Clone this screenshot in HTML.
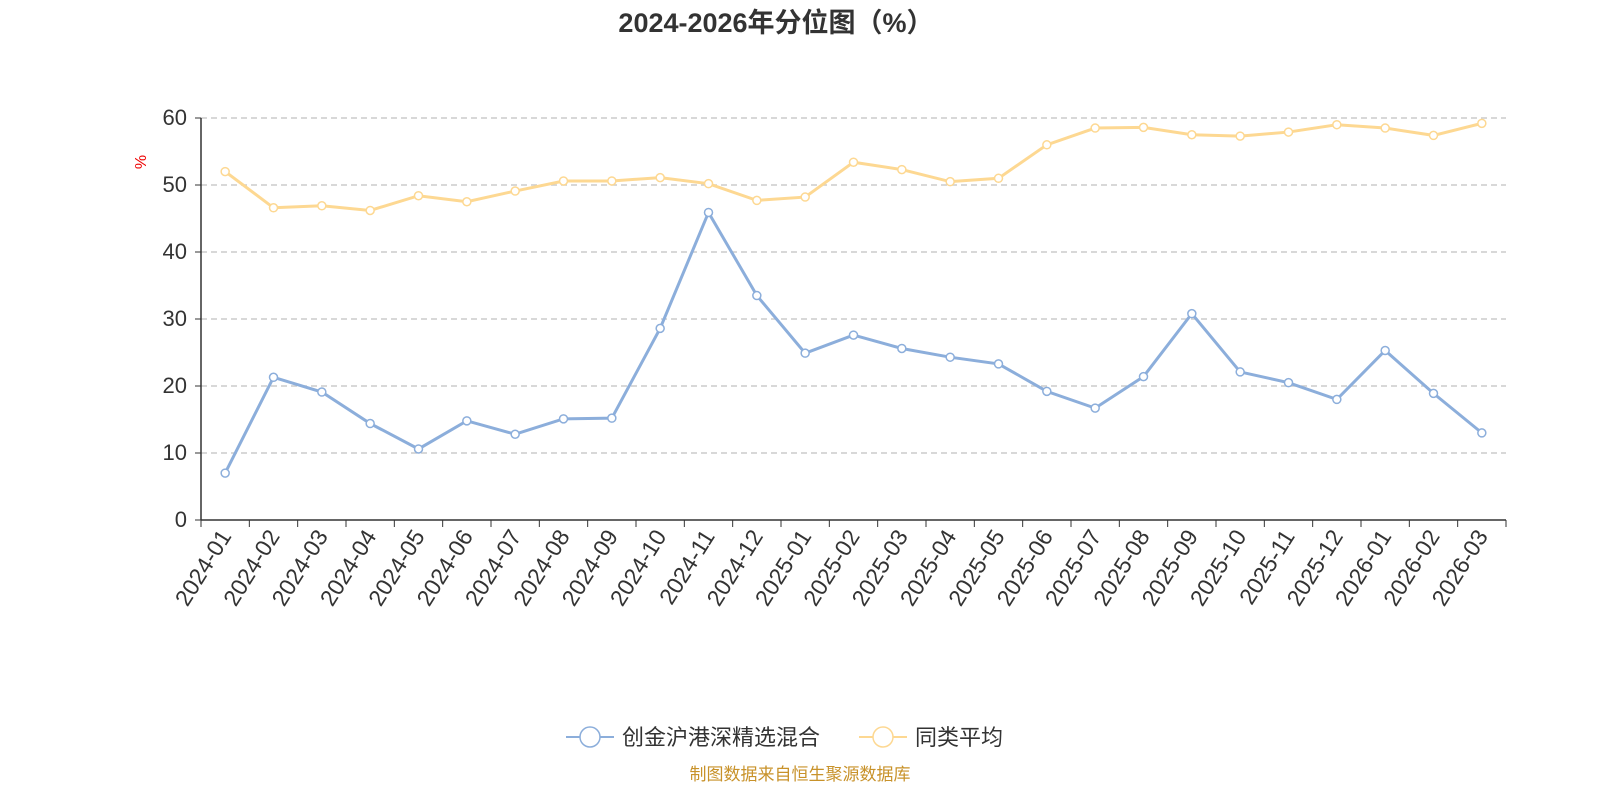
<!DOCTYPE html>
<html><head><meta charset="utf-8"><style>
body{margin:0;background:#fff;width:1600px;height:800px;overflow:hidden;font-family:"Liberation Sans","Noto Sans CJK SC",sans-serif}
</style></head><body>
<svg id="s" width="1600" height="800" xmlns="http://www.w3.org/2000/svg" font-family="Liberation Sans, Noto Sans CJK SC, sans-serif">
<text x="776" y="32" text-anchor="middle" font-size="27" font-weight="bold" fill="#333">2024-2026年分位图（%）</text>
<text x="0" y="0" transform="translate(146,162) rotate(-90)" text-anchor="middle" font-size="16" fill="#e00">%</text>
<g id="g"></g>
<line x1="566" y1="737" x2="614" y2="737" stroke="#8caedb" stroke-width="2"/>
<circle cx="590" cy="737" r="10" fill="#fff" stroke="#8caedb" stroke-width="1.5"/>
<text x="622" y="745" font-size="22" fill="#333">创金沪港深精选混合</text>
<line x1="859" y1="737" x2="907" y2="737" stroke="#fdd892" stroke-width="2"/>
<circle cx="883" cy="737" r="10" fill="#fff" stroke="#fdd892" stroke-width="1.5"/>
<text x="915" y="745" font-size="22" fill="#333">同类平均</text>
<text x="800" y="780" text-anchor="middle" font-size="17" fill="#c8922a">制图数据来自恒生聚源数据库</text>
</svg>
<script>
var g=document.getElementById('g'),h='';
var L=201,R=1506,B=520,k=6.7,n=27,w=(R-L)/n;
for(var v=0;v<=60;v+=10){var y=B-v*k;
 if(v>0)h+='<line x1="'+L+'" y1="'+y+'" x2="'+R+'" y2="'+y+'" stroke="#ccc" stroke-dasharray="6,4" stroke-width="1.5"/>';
 h+='<line x1="'+(L-6)+'" y1="'+y+'" x2="'+L+'" y2="'+y+'" stroke="#333"/>';
 h+='<text x="'+(L-14)+'" y="'+(y+7)+'" text-anchor="end" font-size="22" fill="#333">'+v+'</text>';}
h+='<line x1="'+L+'" y1="'+(B-60*k)+'" x2="'+L+'" y2="'+B+'" stroke="#333" stroke-width="1.5"/>';
h+='<line x1="'+L+'" y1="'+B+'" x2="'+R+'" y2="'+B+'" stroke="#333" stroke-width="1.5"/>';
var lab=[];for(var i=0;i<n;i++){var yr=2024+Math.floor(i/12),m=i%12+1;lab.push(yr+'-'+(m<10?'0':'')+m);}
for(var i=0;i<=n;i++){var x=L+i*w;h+='<line x1="'+x+'" y1="'+B+'" x2="'+x+'" y2="'+(B+7)+'" stroke="#333"/>';}
for(var i=0;i<n;i++){var x=L+w/2+i*w;h+='<text transform="translate('+(x+7)+','+(B+16)+') rotate(-58)" text-anchor="end" font-size="23" fill="#333">'+lab[i]+'</text>';}
var A=[7.0,21.3,19.1,14.4,10.6,14.8,12.8,15.1,15.2,28.6,45.9,33.5,24.9,27.6,25.6,24.3,23.3,19.2,16.7,21.4,30.8,22.1,20.5,18.0,25.3,18.9,13.0];
var Y=[52.0,46.6,46.9,46.2,48.4,47.5,49.1,50.6,50.6,51.1,50.2,47.7,48.2,53.4,52.3,50.5,51.0,56.0,58.5,58.6,57.5,57.3,57.9,59.0,58.5,57.4,59.2];
function ser(d,c){var p='',cs='';for(var i=0;i<n;i++){var x=L+w/2+i*w,y=B-d[i]*k;p+=(i?'L':'M')+x+','+y;cs+='<circle cx="'+x+'" cy="'+y+'" r="4" fill="#fff" stroke="'+c+'" stroke-width="1.5"/>';}
return '<path d="'+p+'" fill="none" stroke="'+c+'" stroke-width="3"/>'+cs;}
h+=ser(Y,'#fdd892')+ser(A,'#8caedb');
g.innerHTML=h;
</script>
</body></html>
